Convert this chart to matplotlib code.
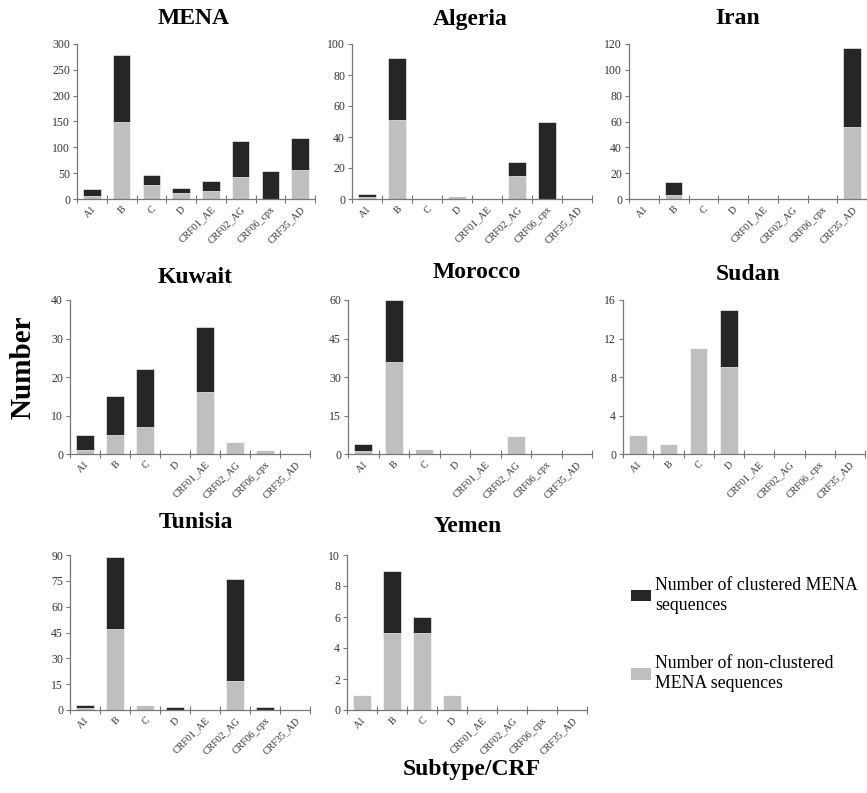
import matplotlib.pyplot as plt
from matplotlib.patches import Patch

plt.rcParams['font.family'] = ['Liberation Serif', 'DejaVu Serif']

# Données
subtypes = ['A1', 'B', 'C', 'D', 'CRF01_AE', 'CRF02_AG', 'CRF06_cpx', 'CRF35_AD']

# non-clustered (light) and clustered (dark) counts per region
regions = ['MENA', 'Algeria', 'Iran', 'Kuwait', 'Morocco', 'Sudan', 'Tunisia', 'Yemen']

mena_non = [6, 149, 27, 11, 16, 43, 0, 56]
mena_clu = [13, 129, 19, 10, 18, 69, 54, 62]

algeria_non = [1, 51, 0, 2, 0, 15, 0, 0]
algeria_clu = [2, 40, 0, 0, 0, 9, 50, 0]

iran_non = [0, 3, 0, 0, 0, 0, 0, 56]
iran_clu = [0, 10, 0, 0, 0, 0, 0, 61]

kuwait_non = [1, 5, 7, 0, 16, 3, 1, 0]
kuwait_clu = [4, 10, 15, 0, 17, 0, 0, 0]

morocco_non = [1, 36, 2, 0, 0, 7, 0, 0]
morocco_clu = [3, 24, 0, 0, 0, 0, 0, 0]

sudan_non = [2, 1, 11, 9, 0, 0, 0, 0]
sudan_clu = [0, 0, 0, 6, 0, 0, 0, 0]

tunisia_non = [1, 47, 3, 0, 0, 17, 0, 0]
tunisia_clu = [2, 42, 0, 2, 0, 59, 2, 0]

yemen_non = [1, 5, 5, 1, 0, 0, 0, 0]
yemen_clu = [0, 4, 1, 0, 0, 0, 0, 0]

# y axis: (max, step)
yscales = [(300, 50), (100, 20), (120, 20), (40, 10), (60, 15), (16, 4), (90, 15), (10, 2)]

non_all = [mena_non, algeria_non, iran_non, kuwait_non, morocco_non, sudan_non, tunisia_non, yemen_non]
clu_all = [mena_clu, algeria_clu, iran_clu, kuwait_clu, morocco_clu, sudan_clu, tunisia_clu, yemen_clu]

DARK = '#262626'
LIGHT = '#bfbfbf'
W, H = 867, 793

# axes boxes in pixels: (x_left, x_right, y_top, y_zero)
boxes = [(77, 315, 44, 199), (352, 592, 44, 199), (629, 867, 44, 199),
         (70, 310, 300, 454), (348, 592, 300, 454), (623, 865, 300, 454),
         (70, 310, 555, 710), (347, 587, 555, 710)]
# title centres in pixels
title_pos = [(194, 18), (470, 20), (738, 18),
             (195, 277), (477, 272), (748, 275),
             (196, 523), (468, 526)]

fig = plt.figure(figsize=(W / 100, H / 100), dpi=100)

for i, name in enumerate(regions):
    x0, x1, yt, yz = boxes[i]
    ax = fig.add_axes([x0 / W, 1 - yz / H, (x1 - x0) / W, (yz - yt) / H])
    pos = list(range(len(subtypes)))
    ax.bar(pos, non_all[i], width=0.58, color=LIGHT, edgecolor='white', linewidth=0.4)
    ax.bar(pos, clu_all[i], width=0.58, bottom=non_all[i], color=DARK,
           edgecolor='white', linewidth=0.4)
    ymax, step = yscales[i]
    ax.set_ylim(0, ymax)
    ax.set_yticks(range(0, ymax + 1, step))
    ax.set_xlim(-0.5, len(subtypes) - 0.5)
    ax.set_xticks([p - 0.5 for p in range(len(subtypes) + 1)])
    ax.set_xticklabels([])
    ax.set_xticks(pos, minor=True)
    ax.set_xticklabels(subtypes, minor=True, rotation=45, ha='right',
                       rotation_mode='anchor', fontsize=7.2, color='#333333')
    ax.tick_params(axis='x', which='minor', length=0, pad=4)
    ax.tick_params(axis='x', which='major', direction='inout', length=6, color='#777777')
    ax.tick_params(axis='y', direction='out', length=3, labelsize=8.5,
                   color='#777777', labelcolor='#333333', pad=2)
    for s in ['top', 'right']:
        ax.spines[s].set_visible(False)
    for s in ['left', 'bottom']:
        ax.spines[s].set_color('#777777')
        ax.spines[s].set_linewidth(0.9)
    tx, ty = title_pos[i]
    fig.text(tx / W, 1 - ty / H, name, ha='center', va='center',
             fontsize=17, fontweight='bold')

fig.text(23 / W, 1 - 367 / H, 'Number', rotation=90, ha='center', va='center',
         fontsize=21, fontweight='bold')
fig.text(472 / W, 1 - 770 / H, 'Subtype/CRF', ha='center', va='center',
         fontsize=17, fontweight='bold')

handles = [Patch(facecolor=DARK), Patch(facecolor=LIGHT)]
labels = ['Number of clustered MENA\nsequences', 'Number of non-clustered\nMENA sequences']
fig.legend(handles, labels, loc='upper left', bbox_to_anchor=(624 / W, 1 - 570 / H),
           frameon=False, fontsize=12.8, handlelength=1.1, handleheight=0.6,
           handletextpad=0.25, labelspacing=2.35, borderaxespad=0)

plt.savefig('out.png', dpi=100)
